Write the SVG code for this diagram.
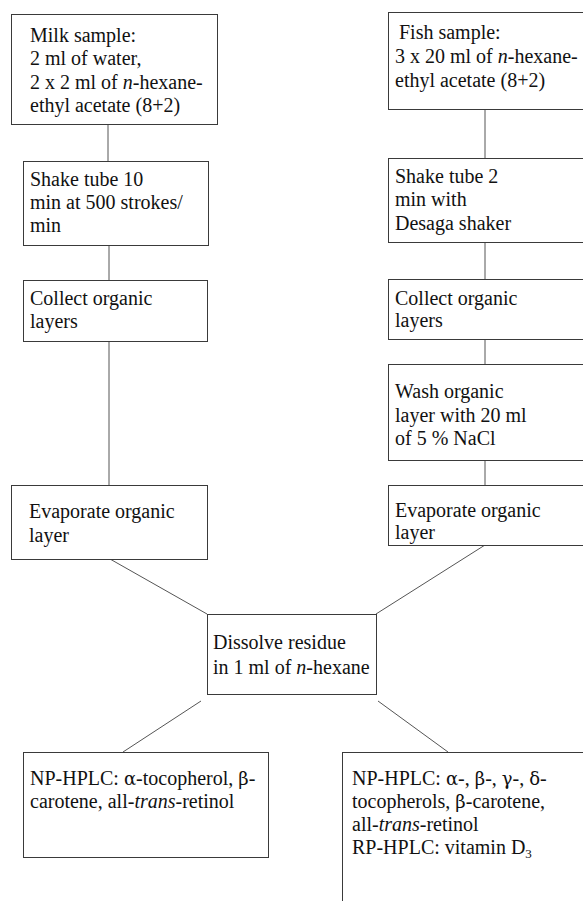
<svg xmlns="http://www.w3.org/2000/svg" width="583" height="901" viewBox="0 0 583 901">
<style>
.box{fill:#fff;stroke:#3a3a3a;stroke-width:1}
.t{font-family:"Liberation Serif","Times New Roman",serif;font-size:20px;fill:#111}
.i{font-style:italic}
.g{font-family:"DejaVu Serif","Liberation Serif",serif;font-size:18px}
.c line{stroke:#555;stroke-width:1}
</style>
<rect width="583" height="901" fill="#fff"/>
<g class="c" id="connectors">
<line x1="108" y1="124" x2="108" y2="161"/>
<line x1="109" y1="245" x2="109" y2="280"/>
<line x1="109" y1="341" x2="109" y2="485"/>
<line x1="485" y1="109" x2="485" y2="158"/>
<line x1="485" y1="242" x2="485" y2="279"/>
<line x1="485" y1="339" x2="485" y2="364"/>
<line x1="485" y1="460" x2="485" y2="485"/>
<line x1="110" y1="559" x2="207" y2="614"/>
<line x1="485" y1="545" x2="376" y2="614"/>
<line x1="201" y1="701" x2="123" y2="752"/>
<line x1="378" y1="701" x2="448" y2="752"/>
</g>
<g id="milk">
<rect class="box" x="11.5" y="14.5" width="206" height="110"/>
<text class="t" x="30" y="42">Milk sample:</text>
<text class="t" x="30" y="65">2 ml of water,</text>
<text class="t" x="30" y="89">2 x 2 ml of <tspan class="i">n</tspan>-hexane-</text>
<text class="t" x="30" y="112">ethyl acetate (8+2)</text>
</g>
<g id="shake1">
<rect class="box" x="23.5" y="161.5" width="185" height="84"/>
<text class="t" x="30" y="186">Shake tube 10</text>
<text class="t" x="30" y="209">min at 500 strokes/</text>
<text class="t" x="30" y="232">min</text>
</g>
<g id="collect1">
<rect class="box" x="23.5" y="280.5" width="184" height="61"/>
<text class="t" x="30" y="305">Collect organic</text>
<text class="t" x="30" y="328">layers</text>
</g>
<g id="evap1">
<rect class="box" x="11.5" y="485.5" width="196" height="74"/>
<text class="t" x="29" y="518">Evaporate organic</text>
<text class="t" x="29" y="542">layer</text>
</g>
<g id="fish">
<rect class="box" x="388.5" y="12.5" width="202" height="97"/>
<text class="t" x="399" y="39">Fish sample:</text>
<text class="t" x="395" y="63">3 x 20 ml of <tspan class="i">n</tspan>-hexane-</text>
<text class="t" x="395" y="87">ethyl acetate (8+2)</text>
</g>
<g id="shake2">
<rect class="box" x="388.5" y="158.5" width="202" height="84"/>
<text class="t" x="395" y="183">Shake tube 2</text>
<text class="t" x="395" y="206">min with</text>
<text class="t" x="395" y="230">Desaga shaker</text>
</g>
<g id="collect2">
<rect class="box" x="388.5" y="279.5" width="202" height="60"/>
<text class="t" x="395" y="305">Collect organic</text>
<text class="t" x="395" y="327">layers</text>
</g>
<g id="wash">
<rect class="box" x="388.5" y="364.5" width="202" height="96"/>
<text class="t" x="395" y="398">Wash organic</text>
<text class="t" x="395" y="422">layer with 20 ml</text>
<text class="t" x="395" y="445">of 5 % NaCl</text>
</g>
<g id="evap2">
<rect class="box" x="388.5" y="485.5" width="202" height="60"/>
<text class="t" x="395" y="517">Evaporate organic</text>
<text class="t" x="395" y="539">layer</text>
</g>
<g id="dissolve">
<rect class="box" x="207.5" y="614.5" width="169" height="80"/>
<text class="t" x="213" y="649">Dissolve residue</text>
<text class="t" x="213" y="674">in 1 ml of <tspan class="i">n</tspan>-hexane</text>
</g>
<g id="np1">
<rect class="box" x="23.5" y="752.5" width="245" height="105"/>
<text class="t" x="30" y="785">NP-HPLC: <tspan class="g">α</tspan>-tocopherol, <tspan class="g">β</tspan>-</text>
<text class="t" x="30" y="808">carotene, all-<tspan class="i">trans</tspan>-retinol</text>
</g>
<g id="np2">
<rect class="box" x="342.5" y="752.5" width="250" height="160"/>
<text class="t" x="352" y="785">NP-HPLC: <tspan class="g">α</tspan>-, <tspan class="g">β</tspan>-, <tspan class="g">γ</tspan>-, <tspan class="g">δ</tspan>-</text>
<text class="t" x="352" y="808">tocopherols, <tspan class="g">β</tspan>-carotene,</text>
<text class="t" x="352" y="831">all-<tspan class="i">trans</tspan>-retinol</text>
<text class="t" x="352" y="854">RP-HPLC: vitamin D<tspan font-size="13" dy="4">3</tspan></text>
</g>
</svg>
